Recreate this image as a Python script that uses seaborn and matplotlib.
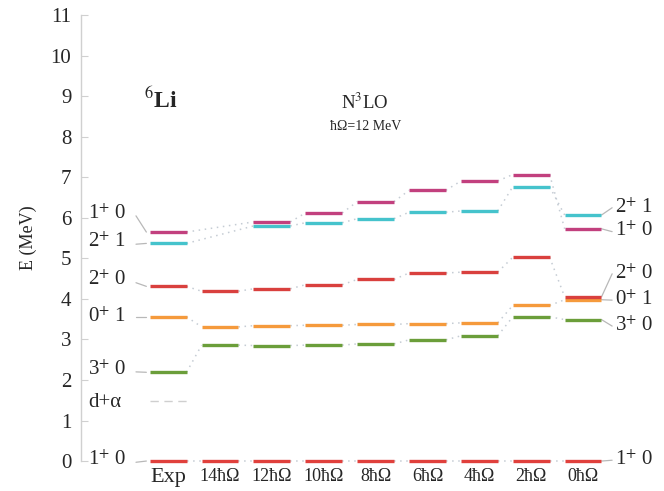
import numpy as np
import matplotlib
matplotlib.use("Agg")
import matplotlib.pyplot as plt
import seaborn as sns

sns.set_theme(style="white")
plt.rcParams['font.family'] = ['Liberation Serif', 'DejaVu Serif']
plt.rcParams['mathtext.fontset'] = 'stix'

columns = ["Exp", "14ħΩ", "12ħΩ", "10ħΩ", "8ħΩ", "6ħΩ", "4ħΩ", "2ħΩ", "0ħΩ"]
nan = np.nan
lvl_1p0_g = [0.0, 0.0, 0.0, 0.0, 0.0, 0.0, 0.0, 0.0, 0.0]
lvl_3p0 = [2.19, 2.86, 2.85, 2.86, 2.89, 2.99, 3.09, 3.56, 3.49]
lvl_0p1 = [3.56, 3.31, 3.34, 3.35, 3.37, 3.39, 3.41, 3.84, 3.98]
lvl_2p0 = [4.31, 4.19, 4.25, 4.35, 4.48, 4.64, 4.66, 5.03, 4.05]
lvl_2p1 = [5.37, nan, 5.80, 5.88, 5.98, 6.14, 6.17, 6.77, 6.07]
lvl_1p0 = [5.65, nan, 5.90, 6.12, 6.40, 6.68, 6.91, 7.07, 5.73]
d_alpha = 1.47

series = [
    (lvl_1p0_g, "#e0403c"),
    (lvl_3p0, "#6b9e3a"),
    (lvl_0p1, "#f59a3c"),
    (lvl_2p0, "#d9403e"),
    (lvl_2p1, "#45c3cc"),
    (lvl_1p0, "#c2407e"),
]

fig = plt.figure(figsize=(6.64, 4.91), dpi=100)
ax = fig.add_axes([0.122, 0.061, 0.878, 0.908])
x = np.arange(len(columns))
hw = 0.355

for vals, col in series:
    vals = np.asarray(vals, dtype=float)
    ax.hlines(vals, x - hw, x + hw, colors=col, lw=2.4, clip_on=False, zorder=3)
    idx = [i for i in range(len(vals)) if not np.isnan(vals[i])]
    for a, b in zip(idx[:-1], idx[1:]):
        ax.plot([x[a] + hw, x[b] - hw], [vals[a], vals[b]], ls=(0, (1, 3)),
                color="#c5ccd4", lw=1.1, clip_on=False, zorder=2)

ax.hlines([d_alpha], [x[0] - hw], [x[0] + hw], colors="#cfcfcf", lw=1.0,
          linestyles=(0, (6, 4)), zorder=2)

lab_kw = dict(fontsize=15, va="center", ha="left")
lead_kw = dict(color="#b8b8b8", lw=0.9, clip_on=False)
left_labels = [
    (r"1$^{+}$ 0", 6.10, lvl_1p0[0]),
    (r"2$^{+}$ 1", 5.40, lvl_2p1[0]),
    (r"2$^{+}$ 0", 4.45, lvl_2p0[0]),
    (r"0$^{+}$ 1", 3.56, lvl_0p1[0]),
    (r"3$^{+}$ 0", 2.25, lvl_3p0[0]),
    (r"1$^{+}$ 0", 0.02, lvl_1p0_g[0]),
]
for t, ly, ey in left_labels:
    ax.text(-1.54, ly, t, **lab_kw)
    ax.plot([-0.62, -0.42], [ly - 0.05 if ly != ey else ly, ey], **lead_kw)
ax.text(-1.54, 1.45, "d+α", **lab_kw)

right_labels = [
    (r"2$^{+}$ 1", 6.25, lvl_2p1[-1]),
    (r"1$^{+}$ 0", 5.66, lvl_1p0[-1]),
    (r"2$^{+}$ 0", 4.62, lvl_2p0[-1]),
    (r"0$^{+}$ 1", 3.97, lvl_0p1[-1]),
    (r"3$^{+}$ 0", 3.33, lvl_3p0[-1]),
    (r"1$^{+}$ 0", 0.02, lvl_1p0_g[-1]),
]
for t, ly, ey in right_labels:
    ax.text(8.61, ly, t, **lab_kw)
    ax.plot([x[-1] + hw, 8.56], [ey, ly], **lead_kw)

ax.text(-0.15, 8.91, r"$^{6}$Li", fontsize=17, fontweight="bold", ha="center", va="center")
ax.text(3.80, 8.84, r"N$^{3}$LO", fontsize=13.5, ha="center", va="center")
ax.text(3.80, 8.25, "ħΩ=12 MeV", fontsize=10, ha="center", va="center")

ax.set_xlim(-1.68, 9.56)
ax.set_ylim(0, 11)
ax.set_yticks(range(0, 12))
ax.set_yticklabels([str(i) for i in range(0, 12)], fontsize=15)
ax.set_xticks(x)
ax.set_xticklabels(columns, fontsize=13)
ax.get_xticklabels()[0].set_fontsize(16)
ax.tick_params(axis="y", direction="in", length=5, color="#d0d0d0", width=0.8, pad=7, left=True)
ax.tick_params(axis="x", length=0, pad=5)
for s in ["top", "right", "bottom"]:
    ax.spines[s].set_visible(False)
ax.spines["left"].set_color("#d0d0d0")
ax.spines["left"].set_linewidth(1.0)
ax.set_ylabel("E (MeV)", fontsize=13, labelpad=10)
ax.grid(False)

fig.savefig("out.png", dpi=100)
